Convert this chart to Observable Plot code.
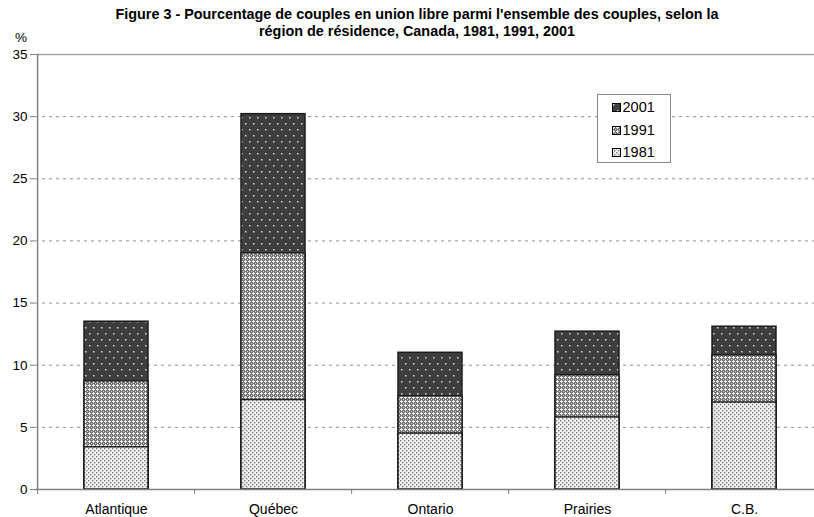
<!DOCTYPE html>
<html>
<head>
<meta charset="utf-8">
<script src="https://cdn.jsdelivr.net/npm/d3@7"></script>
<script src="https://cdn.jsdelivr.net/npm/@observablehq/plot@0.6"></script>
<style>
  body { margin: 0; background: #fff; font-family: "Liberation Sans", Arial, sans-serif; }
  #wrap { position: relative; width: 814px; height: 517px; overflow: hidden; background: #fff; }
  #title { position: absolute; left: 0; top: 6px; width: 834px; text-align: center;
           font-family: "Liberation Sans Narrow", "Liberation Sans", Arial, sans-serif;
           font-weight: bold; font-size: 14.4px; line-height: 17px; color: #000; }
  #unit { position: absolute; left: 15px; top: 30px; font-size: 13.5px; color: #000; }
  #chart { position: absolute; left: 0; top: 44px; }
  #legend { position: absolute; left: 597px; top: 94px; width: 74px; height: 69px;
            border: 1px solid #8a8a8a; background: #fff; box-sizing: border-box; }
  .item { position: absolute; left: 14px; height: 16px; font-size: 14.5px; line-height: 16px; color: #000; }
  .item svg { position: absolute; left: 0; top: 4px; }
  .item span { position: absolute; left: 10.5px; top: 0; }
</style>
</head>
<body>
<svg width="0" height="0" style="position:absolute">
  <defs>
    <pattern id="p2001" width="8" height="12" patternUnits="userSpaceOnUse">
      <rect width="8" height="12" fill="#3e3e3e"></rect>
      <rect x="1" y="1" width="1.5" height="1.5" fill="#d4d4d4"></rect>
      <rect x="5" y="7" width="1.5" height="1.5" fill="#d4d4d4"></rect>
    </pattern>
    <pattern id="p1991" width="4" height="4" patternUnits="userSpaceOnUse">
      <rect width="4" height="4" fill="#767676"></rect>
      <rect x="1" y="0" width="1" height="3" fill="#ececec"></rect>
      <rect x="0" y="1" width="3" height="1" fill="#ececec"></rect>
      <rect x="3" y="3" width="1" height="1" fill="#cfcfcf"></rect>
    </pattern>
    <pattern id="p1981" width="4" height="4" patternUnits="userSpaceOnUse">
      <rect width="4" height="4" fill="#f2f2f2"></rect>
      <rect x="0" y="0" width="1.4" height="1.4" fill="#7c7c7c"></rect>
      <rect x="2" y="2" width="1.4" height="1.4" fill="#7c7c7c"></rect>
    </pattern>
  </defs>
</svg>
<div id="wrap">
  <div id="title">Figure 3 - Pourcentage de couples en union libre parmi l'ensemble des couples, selon la<br>région de résidence, Canada, 1981, 1991, 2001</div>
  <div id="unit">%</div>
  <div id="chart"></div>
  <div id="legend"></div>
</div>
<script>
// Regions of residence and percentage of common-law couples among all couples
const regions = ["Atlantique", "Québec", "Ontario", "Prairies", "C.B."];
const pct1981 = [3.4, 7.2, 4.5, 5.8, 7.0];
const pct1991 = [8.7, 19.0, 7.5, 9.2, 10.8];
const pct2001 = [13.5, 30.2, 11.0, 12.7, 13.1];
const years = ["2001", "1991", "1981"];
const yTicks = [0, 5, 10, 15, 20, 25, 30, 35];

// Each census year is drawn from zero; later years sit behind earlier ones
const series = { "2001": pct2001, "1991": pct1991, "1981": pct1981 };
const rows = years.map(year => regions.map((region, i) => ({ region, year, value: series[year][i] })));

const width = 824, height = 473, marginLeft = 35, marginRight = 0;
const step = (width - marginLeft - marginRight) / regions.length;

const chart = Plot.plot({
  width, height,
  marginLeft, marginRight, marginTop: 10, marginBottom: 28,
  style: { fontFamily: "Liberation Sans, Arial, sans-serif", fontSize: "13px", maxWidth: "none", overflow: "visible", background: "transparent" },
  x: { domain: regions, paddingInner: 0.594, paddingOuter: 0.297, axis: null },
  y: { domain: [0, 35], axis: null },
  marks: [
    Plot.ruleY(yTicks.filter(t => t > 0 && t < 35), { stroke: "#8f8f8f", strokeDasharray: "3,4" }),
    Plot.ruleY([35], { stroke: "#a6a6a6", strokeWidth: 1.5 }),
    ...years.map((year, k) => Plot.barY(rows[k], {
      x: "region", y: "value",
      fill: `url(#p${year})`, stroke: "#1e1e1e", strokeWidth: 1.5
    })),
    Plot.ruleY([0], { stroke: "#808080", strokeWidth: 1.5 }),
    Plot.ruleX([regions[0]], { y1: 0, y2: 35, dx: -step / 2, stroke: "#808080", strokeWidth: 1.5 }),
    Plot.axisY({ ticks: yTicks, tickSize: 5, tickPadding: 3, stroke: "#808080", fill: "#000", fontSize: 13.5, label: null }),
    Plot.axisX({ tickSize: 5, dx: -step / 2, tickFormat: () => "", stroke: "#808080", label: null }),
    Plot.axisX({ tickSize: 0, tickPadding: 14.5, fill: "#000", fontSize: 14, label: null })
  ]
});
document.getElementById("chart").appendChild(chart);

// Legend box
const legend = document.getElementById("legend");
years.forEach((year, k) => {
  const item = document.createElement("div");
  item.className = "item";
  item.style.top = (4 + k * 22.5) + "px";
  item.innerHTML = `<svg width="9" height="9"><rect x="0.5" y="0.5" width="8" height="8" fill="url(#p${year})" stroke="#000"/></svg><span>${year}</span>`;
  legend.appendChild(item);
});
</script>
</body>
</html>
